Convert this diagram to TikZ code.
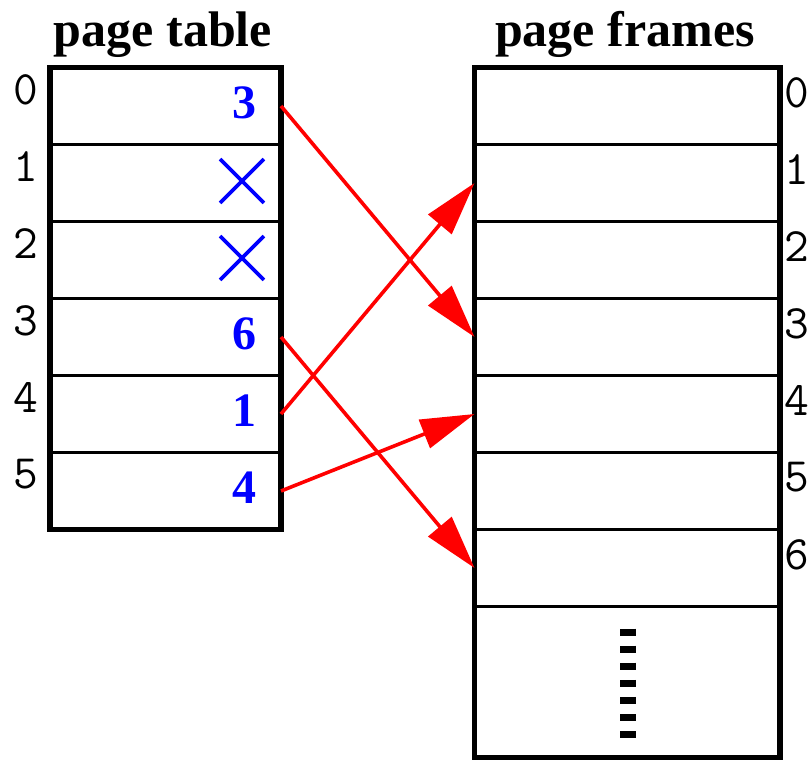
\documentclass[tikz,border=0pt]{standalone}
\usepackage{fontspec}
\setmainfont{Liberation Serif}
\usetikzlibrary{arrows.meta,shapes.misc}
\definecolor{ptrred}{RGB}{255,0,0}
\definecolor{valblue}{RGB}{0,0,255}
\begin{document}
\begin{tikzpicture}[x=1pt,y=-1pt,
  ptrow/.style={draw, line width=3.5pt, minimum width=231pt, minimum height=77pt,
                inner sep=0pt, outer sep=0pt},
  pfrow/.style={draw, line width=3.5pt, minimum width=305.5pt, minimum height=77pt,
                inner sep=0pt, outer sep=0pt},
  outline/.style={line width=5.5pt, line cap=rect},
  title/.style={font=\bfseries\fontsize{50}{50}\selectfont, anchor=base, inner sep=0pt},
  idx/.style={font=\ttfamily\fontsize{48}{48}\selectfont, inner sep=0pt},
  val/.style={font=\bfseries\fontsize{48}{48}\selectfont, text=valblue, inner sep=0pt},
  invalid/.style={cross out, draw=valblue, line width=3.8pt, minimum size=40pt, inner sep=0pt},
  ptr/.style={draw=ptrred, line width=3.6pt, -{Triangle[length=54pt, width=30pt]}},
]
\useasboundingbox (0,0) rectangle (811,760);

% ---- page table (6 entries) ----
\foreach \i in {0,...,5} {
  \node[ptrow] (pt\i) at (165.5, {67.5+77*\i+38.5}) {};
  \node[idx] (ptidx\i) at (26, {67.5+77*\i+22}) {\i};
}
\draw[outline] (pt0.north west) rectangle (pt5.south east);
\node[title] (pttitle) at (163,47) {page table};

% entries: frame numbers and invalid marks
\node[val] (v0) at (244, 103) {3};
\node[invalid] (v1) at (242, 181) {};
\node[invalid] (v2) at (242, 258) {};
\node[val] (v3) at (244, 334) {6};
\node[val] (v4) at (244, 411) {1};
\node[val] (v5) at (244, 488) {4};

% ---- physical page frames ----
\foreach \i in {0,...,6} {
  \node[pfrow] (pf\i) at (627.25, {67.5+77*\i+38.5}) {};
  \node[idx] (pfidx\i) at (797, {67.5+77*\i+25}) {\i};
}
\node[pfrow, minimum height=151.5pt] (pfrest) at (627.25, 682.25) {};
\draw[outline] (pf0.north west) rectangle (pfrest.south east);
\node[title] (pftitle) at (625,47) {page frames};

% vertical ellipsis in the remaining frames
\coordinate (dotstop) at (628, 628.5);
\coordinate (dotsbot) at (628, 740);
\draw[line width=15.5pt, dash pattern=on 7pt off 10.1pt] (dotstop) -- (dotsbot);

% ---- mappings ----
\draw[ptr] (pt0.east) -- (pf3.west);
\draw[ptr] (pt3.east) -- (pf6.west);
\draw[ptr] (pt4.east) -- (pf1.west);
\draw[ptr] (pt5.east) -- (pf4.west);
\end{tikzpicture}
\end{document}
